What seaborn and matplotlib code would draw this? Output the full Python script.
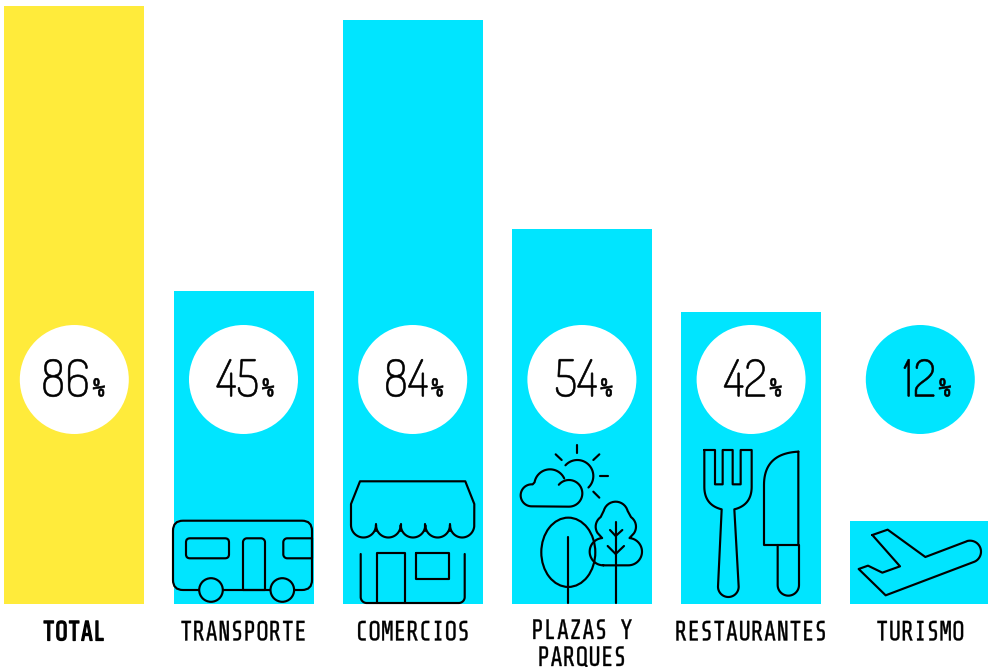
import logging
import numpy as np
import pandas as pd
import matplotlib
matplotlib.use("Agg")
import matplotlib.pyplot as plt
from matplotlib.patches import Circle, Ellipse, FancyBboxPatch
from matplotlib.patheffects import AbstractPathEffect
from matplotlib.transforms import Affine2D
import seaborn as sns

logging.getLogger("matplotlib.font_manager").setLevel(logging.ERROR)

categories = ["TOTAL", "TRANSPORTE", "COMERCIOS", "PLAZAS Y\nPARQUES", "RESTAURANTES", "TURISMO"]
values = [86, 45, 84, 54, 42, 12]
bar_colors = ["#FFEB3B", "#00E5FF", "#00E5FF", "#00E5FF", "#00E5FF", "#00E5FF"]

sns.set_theme(style="white")
LABEL_FONT = ["Share Tech Mono", "Roboto", "DejaVu Sans"]
DIGIT_FONT = ["Dosis", "Share Tech Mono", "Roboto", "DejaVu Sans"]
plt.rcParams["font.family"] = LABEL_FONT


class Squeeze(AbstractPathEffect):
    """Narrow a text line horizontally about one of its edges, optionally thickening it."""
    def __init__(self, sx, anchor="center", stroke=0.0):
        super().__init__()
        self.sx, self.anchor, self.stroke = sx, anchor, stroke

    def draw_path(self, renderer, gc, tpath, affine, rgbFace=None):
        bb = tpath.get_extents()
        a = {"left": bb.x0, "right": bb.x1, "center": (bb.x0 + bb.x1) / 2}[self.anchor]
        t = Affine2D().translate(-a, 0).scale(self.sx, 1).translate(a, 0) + affine
        gc0 = renderer.new_gc()
        gc0.copy_properties(gc)
        if self.stroke:
            gc0.set_linewidth(self.stroke)
            gc0.set_foreground("black")
        renderer.draw_path(gc0, tpath, t, rgbFace)
        gc0.restore()


W, H = 988, 667
fig = plt.figure(figsize=(W / 100, H / 100), dpi=100, facecolor="white")
ax = fig.add_axes([0, 0, 1, 1])
df = pd.DataFrame({"cat": categories, "val": values})
sns.barplot(data=df, x="cat", y="val", hue="cat", palette=bar_colors, legend=False,
            width=140 / 169.2, dodge=False, saturation=1, linewidth=0, ax=ax)
ax.set_xlim(-74.3 / 169.2, (W - 74.3) / 169.2)
ppu = 598 / 86
ax.set_ylim((604 - H) / ppu, 604 / ppu)
ax.axis("off")

px = fig.add_axes([0, 0, 1, 1], facecolor="none")
px.set_xlim(0, W)
px.set_ylim(H, 0)
px.axis("off")

centers = [ax.transData.transform((i, 0))[0] for i in range(len(values))]
CY = 379.5
for i, (c, v) in enumerate(zip(centers, values)):
    fc = "white" if v > 12 else "#00E5FF"
    px.add_patch(Circle((c, CY), 54.5, fc=fc, ec="none"))
    px.text(c + 15.5, 396.5, str(v), ha="right", va="baseline", family=DIGIT_FONT, fontsize=51 * .72,
            color="black", path_effects=[Squeeze(0.96, "right", 0.45)])
    px.text(c + 18.5, 396.5, "%", ha="left", va="baseline", fontsize=26 * .72, color="black",
            path_effects=[Squeeze(0.86, "left", 0.5)])
    lines = categories[i].count("\n")
    px.text(c, 640.5 + 25.5 * lines, categories[i], ha="center", va="baseline", fontsize=28 * .72, color="black",
            linespacing=1.1, path_effects=[Squeeze(0.84, "center", 0.9 if i == 0 else 0.25)])

LW = 1.55
def L(pts, close=False):
    a = np.array(pts, float)
    if close:
        a = np.vstack([a, a[0]])
    px.plot(a[:, 0], a[:, 1], color="black", lw=LW, solid_capstyle="round", solid_joinstyle="round", zorder=5)

def Z(pts, ox, oy):
    return [(ox + x / 3, oy + y / 3) for x, y in pts]

def arc(cx, cy, r, a0, a1, n=30, ry=None):
    ry = r if ry is None else ry
    t = np.radians(np.linspace(a0, a1, n))
    return list(zip(cx + r * np.cos(t), cy - ry * np.sin(t)))

def quad(p0, c, p1, n=24):
    t = np.linspace(0, 1, n)[:, None]
    p0, c, p1 = map(np.array, (p0, c, p1))
    return [tuple(q) for q in (1 - t) ** 2 * p0 + 2 * t * (1 - t) * c + t ** 2 * p1]

def rrect(x0, y0, x1, y1, r):
    p = FancyBboxPatch((x0 + r, y0 + r), x1 - x0 - 2 * r, y1 - y0 - 2 * r, boxstyle=f"round,pad={r},rounding_size={r}",
                       fc="none", ec="black", lw=LW, zorder=5)
    px.add_patch(p)

# bus
rrect(173, 520.7, 312, 590, 10)
rrect(186, 538.3, 229, 558.3, 4)
L(arc(247, 542.3, 4, 180, 90) + arc(261, 542.3, 4, 90, 0) + [(265, 590)] + [(243, 590)], close=True)
L([(312, 538.3)] + arc(287.3, 542.3, 4, 90, 180) + arc(287.3, 554.3, 4, 180, 270) + [(312, 558.3)])
L([(312, 538.3), (312, 558.3)])
for wx in (211, 282.3):
    px.add_patch(Circle((wx, 590), 11.8, fc="#00E5FF", ec="black", lw=LW, zorder=6))

# shop
aw = [(351, 525), (351, 504), (360, 481.3), (465.3, 481.3), (474.3, 504), (474.3, 525)]
for x0, x1 in reversed(list(zip([351, 376, 400.7, 425.3, 450], [376, 400.7, 425.3, 450, 474.3]))):
    aw += arc((x0 + x1) / 2, 525, (x1 - x0) / 2, 0, -180, ry=12.5)
L(aw)
for x in (376, 400.7, 425.3, 450):
    L([(x, 524), (x, 531)])
L([(360.7, 554), (360.7, 597)] + arc(366.7, 597, 6, 180, 270) + arc(458.7, 597, 6, 270, 360) + [(464.7, 554)])
L([(376.7, 602.7), (376.7, 552.7), (405, 552.7), (405, 602.7)])
L([(415.7, 552.7), (448.7, 552.7), (448.7, 579), (415.7, 579)], close=True)

# park
ox, oy = 500, 430
for seg in ([(232, 45), (232, 70)], [(167, 73), (185, 90)], [(298, 73), (280, 90)],
            [(300, 138), (325, 138)], [(280, 185), (298, 203)]):
    L(Z(seg, ox, oy))
L(Z(arc(232, 138, 48, 138, -46), ox, oy))
cloud = arc(207, 190, 40, 140, -90) + arc(95, 196, 33, 270, 85) + arc(150, 165, 47, 170, 25)
L(Z(cloud, ox, oy))
px.add_patch(Ellipse((568.3, 552.3), 54, 69.3, fc="none", ec="black", lw=LW, zorder=5))
L(Z([(205, 322), (205, 520)], ox, oy))
crown = (arc(310, 365, 41, 270, 95) + arc(322, 290, 35, 215, 125) + arc(347, 252, 37, 165, 15)
         + arc(373, 290, 35, 55, -35) + arc(385, 365, 41, 85, -90))
L(Z(crown, ox, oy), close=True)
L(Z([(347, 275), (347, 520)], ox, oy))
L(Z([(330, 300), (347, 318), (367, 300)], ox, oy))
L(Z([(323, 348), (347, 372), (372, 348)], ox, oy))

# fork and knife
fork = [(613, 60), (645, 60), (645, 163), (668, 163), (668, 60), (698, 60), (698, 163), (722, 163), (722, 60), (755, 60), (755, 170)]
fork += quad((755, 170), (755, 225), (703, 238))
fork += [(716, 470)] + arc(685, 470, 31, 0, -180) + [(665, 238)]
fork += quad((665, 238), (613, 225), (613, 170))
L(Z(fork, ox, oy), close=True)
knife = [(895, 65), (895, 345), (792, 345), (792, 165)] + quad((792, 165), (792, 70), (895, 65))
L(Z(knife, ox, oy))
L(Z([(833, 345), (833, 465)] + arc(865, 465, 32, 180, 360) + [(897, 345)], ox, oy))

# plane
plane = [(97, 645), (143, 629), (256, 711), (380, 664)] + arc(390, 695, 33, 105, -65)
plane += [(137, 826), (56, 747), (84, 737), (127, 758), (180, 739)]
L(Z(plane, 840, 320), close=True)

fig.savefig("out.png", dpi=100)
